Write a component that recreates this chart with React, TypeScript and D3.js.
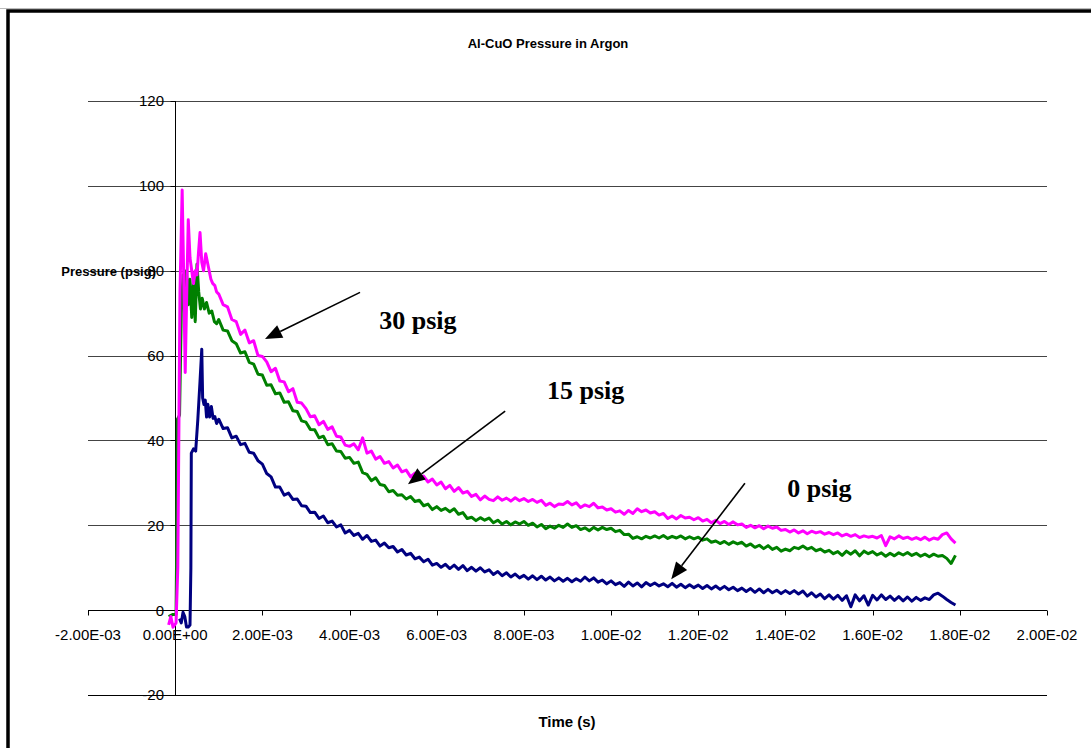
import React, { useEffect, useRef } from 'react';
import * as d3 from 'd3';

// time in ms for the ignition spike, then a regular 0.1 ms grid from 1.0 to 17.9 ms
const headTimes30 = [-0.15, -0.1, -0.05, 0.02, 0.06, 0.11, 0.16, 0.19, 0.23, 0.26, 0.3, 0.34, 0.38, 0.42, 0.46, 0.5, 0.54, 0.57, 0.61, 0.65, 0.7, 0.74, 0.78, 0.82, 0.86, 0.91, 0.95];
const headValues30 = [-3.5, -1.5, -4, -3, 10, 75, 99, 82, 56, 72, 92, 83, 80, 77, 80, 79, 85, 89, 82, 80, 84, 82, 80, 78, 77, 76.5, 75];

const headTimes15 = [-0.15, -0.05, 0.02, 0.03, 0.05, 0.08, 0.1, 0.14, 0.18, 0.22, 0.26, 0.3, 0.34, 0.38, 0.42, 0.46, 0.5, 0.54, 0.58, 0.62, 0.67, 0.72, 0.78, 0.84, 0.9, 0.95];
const headValues15 = [-1.5, -1, -1, 10, 45, 45.5, 46, 70, 79, 74, 80, 72, 78, 69, 77, 68, 81.5, 75, 71, 73.5, 71, 72.5, 70, 70.5, 68, 67.5];

const headTimes0 = [0.1, 0.14, 0.18, 0.22, 0.26, 0.3, 0.34, 0.36, 0.37, 0.42, 0.47, 0.52, 0.57, 0.61, 0.63, 0.66, 0.69, 0.72, 0.75, 0.79, 0.83, 0.87, 0.91, 0.95];
const headValues0 = [-2, -3, -0.5, -1.5, -4, -4, -3.5, 10, 37, 38, 37.5, 45, 54, 61.5, 50, 48.5, 49.5, 45.5, 48.5, 45.5, 48, 45.2, 45.6, 44];

const tailTimes = d3.range(10, 180).map(i => i / 10);

const tail30 = [
  74.5, 72, 71.5, 68.5, 68, 65, 66, 63, 63.5, 60,
  59.8, 58.5, 56.2, 57, 54, 53.8, 51.5, 52.2, 49, 48.8,
  47.5, 45.6, 45.8, 43.7, 44.5, 42.6, 43.2, 41, 40.8, 38.9,
  38.6, 39.2, 37.8, 40.6, 37, 37.5, 35.6, 36.2, 34.6, 35,
  33.5, 34.2, 32.6, 33, 31.4, 32.3, 31, 31.6, 30.2, 30.9,
  29.5, 30.2, 28.6, 29.4, 28, 28.9, 27.6, 28, 26.8, 27.3,
  26, 26.9, 26.1, 25.8, 26.7, 25.9, 26.4, 25.7, 26.5, 25.8,
  26.3, 25.6, 26.1, 25.4, 25.9, 24.7, 25.2, 24.4, 25, 24.9,
  25.6, 24.8, 25.3, 24.2, 24.8, 24.4, 25.2, 24.1, 24.3, 23.6,
  23.9, 23.1, 23.4, 22.6, 23.5, 22.8, 23.9, 23.2, 23.6, 22.9,
  23.2, 22.4, 22.8, 21.6, 22.2, 21.5, 22.3, 21.7, 21.9, 21.3,
  21.8, 21, 21.4, 20.6, 21.2, 20.4, 20.9, 20.2, 20.8, 20.1,
  20.3, 19.5, 20, 19.4, 19.9, 19.2, 19.8, 19.3, 19.6, 18.8,
  19, 18.4, 18.9, 18.2, 18.7, 18, 18.6, 18.2, 18.5, 17.9,
  18.3, 17.8, 18.2, 17.5, 17.9, 17.4, 17.8, 17.1, 17.5, 17.2,
  17.4, 17, 17.6, 15.2, 17.3, 16.8, 17.5, 16.9, 17.2, 16.7,
  17.1, 16.6, 17.2, 16.5, 17, 16.7, 17.8, 18.2, 16.8, 15.8
];

const tail15 = [
  68.5, 66, 65.8, 63.5, 62.8, 60.6, 60.9, 58.4, 58, 55.6,
  55.4, 53, 53.1, 51, 51.2, 49, 49.1, 47, 46.8, 44.6,
  44.3, 42.6, 42.5, 40.6, 41, 39, 39.2, 37.5, 37.4, 35.8,
  36, 34.6, 34.9, 32.4, 32, 30.5, 31.2, 29.6, 29.4, 27.9,
  28.2, 27.1, 27.2, 26.2, 26.8, 25.6, 25.9, 24.6, 25, 23.7,
  24.4, 23.5, 24, 23.2, 23.9, 22.6, 23, 21.6, 21.9, 21.1,
  21.8, 21.2, 21.7, 20.6, 21.2, 20.3, 20.9, 20.1, 20.8, 20.3,
  20.9, 20, 20.5, 19.6, 20.2, 19.2, 19.8, 19.3, 20, 19.5,
  20.3, 19.5, 19.9, 19, 19.4, 18.7, 19.5, 18.9, 19.5, 19,
  19.3, 18.5, 18.8, 17.8, 17.9, 16.9, 17.3, 16.8, 17.4, 17,
  17.5, 17, 17.6, 16.9, 17.4, 17, 17.5, 16.8, 17.3, 16.8,
  17.2, 16.5, 16.8, 16, 16.3, 15.7, 16.2, 15.5, 16.1, 15.6,
  16, 15.1, 15.6, 14.8, 15.3, 14.5, 15.2, 14.3, 14.8, 13.9,
  14.4, 14, 14.8, 14.5, 15.1, 14.4, 14.8, 14, 14.4, 13.7,
  14.1, 13.3, 13.8, 12.9, 13.9, 13.2, 14, 12.8, 13.9, 13.3,
  13.8, 13, 13.5, 12.7, 13.4, 12.8, 13.5, 13, 13.6, 12.9,
  13.4, 12.7, 13.2, 12.6, 13.2, 12.7, 12.9, 12.2, 11, 12.9
];

const tail0 = [
  45, 42.8, 43, 40.6, 41, 39, 39.3, 37.2, 37, 35.2,
  34.4, 32.2, 31.4, 29, 29, 27.1, 27.6, 26.1, 26.2, 24.6,
  24.5, 23, 23.1, 21.6, 22.2, 20.6, 21, 19.6, 20.1, 18.2,
  18.8, 17.6, 18.1, 16.7, 17.6, 16.2, 16.5, 15.1, 15.8, 14.7,
  15, 13.7, 14.3, 13, 13.4, 12.1, 12.5, 11.4, 12, 10.6,
  11, 10.1, 10.8, 9.8, 10.6, 9.6, 10.5, 9.3, 10.1, 9.2,
  10, 9, 9.5, 8.4, 9.1, 8.1, 8.8, 7.8, 8.5, 7.6,
  8.2, 7.3, 8.1, 7.2, 8, 7.1, 7.8, 6.9, 7.6, 6.8,
  7.5, 6.7, 7.4, 6.8, 7.8, 6.9, 7.6, 6.6, 7.1, 6.2,
  6.9, 6, 6.5, 5.6, 6.6, 5.7, 6.4, 5.5, 6.5, 5.8,
  6.4, 5.7, 6.2, 5.5, 6.3, 5.4, 6.1, 5.3, 6, 5.3,
  5.9, 5.1, 5.8, 5, 5.7, 4.9, 5.6, 4.8, 5.4, 4.6,
  5.2, 4.4, 5.1, 4.2, 5, 4.1, 4.9, 4.1, 4.7, 3.9,
  4.6, 3.9, 4.6, 3.8, 4.5, 3.3, 4.1, 3.1, 3.8, 2.7,
  3.6, 2.6, 3.5, 2.3, 3.4, 0.8, 3.6, 2.2, 3.4, 1.2,
  3.5, 2.4, 3.6, 2.5, 3.3, 2.3, 3.2, 2.2, 3.1, 2.1,
  3, 2.3, 2.9, 2.5, 3.6, 4, 3.3, 2.5, 1.8, 1.2
];

const yTicks = [-20, 0, 20, 40, 60, 80, 100, 120];
const xTicks = [-0.002, 0, 0.002, 0.004, 0.006, 0.008, 0.01, 0.012, 0.014, 0.016, 0.018, 0.02];

// label, text position (ms, psig), arrow tail and tip (ms, psig)
const notes = [
  { label: '30 psig', at: [4.68, 66.3], from: [4.24, 74.9], to: [2.06, 63.9] },
  { label: '15 psig', at: [8.53, 49.8], from: [7.57, 46.9], to: [5.34, 29.7] },
  { label: '0 psig', at: [14.04, 26.6], from: [13.07, 29.9], to: [11.38, 7.3] },
];

const series = [
  { name: '0 psig', color: '#000080', t: headTimes0, v: headValues0, tail: tail0 },
  { name: '15 psig', color: '#008000', t: headTimes15, v: headValues15, tail: tail15 },
  { name: '30 psig', color: '#FF00FF', t: headTimes30, v: headValues30, tail: tail30 },
];

const fmtSci = (v: number) => {
  const [m, e] = v.toExponential(2).split('e');
  const n = parseInt(e, 10);
  return `${m}E${n < 0 ? '-' : '+'}${String(Math.abs(n)).padStart(2, '0')}`;
};

const App = () => {
  const ref = useRef<SVGSVGElement>(null);

  useEffect(() => {
    const width = 1091;
    const height = 748;
    const sans = '"Liberation Sans", Arial, sans-serif';
    const serif = '"Liberation Serif", "Times New Roman", serif';

    const svg = d3.select(ref.current);
    svg.selectAll('*').remove();
    svg.attr('width', width).attr('height', height);

    svg.append('rect').attr('width', width).attr('height', height).attr('fill', '#fff');
    svg.append('line').attr('x1', 0).attr('x2', width).attr('y1', 8.5).attr('y2', 8.5)
      .attr('stroke', '#bbb');
    // chart area border (runs off the right and bottom)
    svg.append('rect').attr('x', 8).attr('y', 11).attr('width', 1200).attr('height', 900)
      .attr('fill', 'none').attr('stroke', '#000').attr('stroke-width', 3.5);

    const x = d3.scaleLinear().domain([-0.002, 0.02]).range([88, 1047]);
    const y = d3.scaleLinear().domain([-20, 120]).range([695, 101]);

    // gridlines
    svg.append('g').selectAll('line')
      .data(yTicks.filter(d => d !== 0))
      .join('line')
      .attr('x1', x(-0.002)).attr('x2', x(0.02))
      .attr('y1', d => Math.round(y(d)) + 0.5).attr('y2', d => Math.round(y(d)) + 0.5)
      .attr('stroke', d => (d === -20 ? '#000' : '#444'));

    // y axis at t = 0
    const y0x = Math.round(x(0)) + 0.5;
    svg.append('line').attr('x1', y0x).attr('x2', y0x).attr('y1', y(120)).attr('y2', y(-20))
      .attr('stroke', '#000');
    svg.append('g').selectAll('line')
      .data(yTicks)
      .join('line')
      .attr('x1', y0x - 5).attr('x2', y0x)
      .attr('y1', d => Math.round(y(d)) + 0.5).attr('y2', d => Math.round(y(d)) + 0.5)
      .attr('stroke', '#000');
    svg.append('g').selectAll('text')
      .data(yTicks)
      .join('text')
      .attr('x', 164).attr('y', d => y(d)).attr('dy', '0.36em')
      .attr('text-anchor', 'end')
      .style('font-family', sans).style('font-size', '15px')
      .text(d => d);

    // x axis at p = 0
    const x0y = Math.round(y(0)) + 0.5;
    svg.append('line').attr('x1', x(-0.002)).attr('x2', x(0.02)).attr('y1', x0y).attr('y2', x0y)
      .attr('stroke', '#000');
    svg.append('g').selectAll('line')
      .data(xTicks)
      .join('line')
      .attr('x1', d => Math.round(x(d)) + 0.5).attr('x2', d => Math.round(x(d)) + 0.5)
      .attr('y1', x0y).attr('y2', x0y + 5)
      .attr('stroke', '#000');
    svg.append('g').selectAll('text')
      .data(xTicks)
      .join('text')
      .attr('x', d => x(d)).attr('y', 640)
      .attr('text-anchor', 'middle')
      .style('font-family', sans).style('font-size', '15px')
      .text(d => fmtSci(d));

    // series
    const line = d3.line<[number, number]>()
      .x(d => x(d[0] / 1000))
      .y(d => y(d[1]));

    series.forEach(s => {
      const pts: [number, number][] = s.t.map((t, i) => [t, s.v[i]]);
      tailTimes.forEach((t, i) => pts.push([t, s.tail[i]]));
      svg.append('path')
        .datum(pts)
        .attr('d', line)
        .attr('fill', 'none')
        .attr('stroke', s.color)
        .attr('stroke-width', 3)
        .attr('stroke-linejoin', 'round');
    });

    // titles
    svg.append('text').attr('x', 548).attr('y', 48).attr('text-anchor', 'middle')
      .style('font-family', sans).style('font-size', '13px').style('font-weight', 'bold')
      .text('Al-CuO Pressure in Argon');
    svg.append('text').attr('x', 156).attr('y', 276).attr('text-anchor', 'end')
      .style('font-family', sans).style('font-size', '13px').style('font-weight', 'bold')
      .text('Pressure (psig)');
    svg.append('text').attr('x', 567).attr('y', 727).attr('text-anchor', 'middle')
      .style('font-family', sans).style('font-size', '15px').style('font-weight', 'bold')
      .text('Time (s)');

    // annotations
    notes.forEach(n => {
      const x1 = x(n.from[0] / 1000), y1 = y(n.from[1]);
      const x2 = x(n.to[0] / 1000), y2 = y(n.to[1]);
      const ang = Math.atan2(y2 - y1, x2 - x1);
      const len = 17, half = 7;
      const bx = x2 - len * Math.cos(ang), by = y2 - len * Math.sin(ang);
      svg.append('line').attr('x1', x1).attr('y1', y1).attr('x2', bx).attr('y2', by)
        .attr('stroke', '#000').attr('stroke-width', 1.6);
      const head = [
        [x2, y2],
        [bx + half * Math.sin(ang), by - half * Math.cos(ang)],
        [bx - half * Math.sin(ang), by + half * Math.cos(ang)],
      ];
      svg.append('polygon').attr('points', head.map(p => p.join(',')).join(' ')).attr('fill', '#000');
      svg.append('text').attr('x', x(n.at[0] / 1000)).attr('y', y(n.at[1]))
        .style('font-family', serif).style('font-size', '26px').style('font-weight', 'bold')
        .text(n.label);
    });
  }, []);

  return (
    <div style={{ position: 'absolute', left: 0, top: 0 }}>
      <svg ref={ref} style={{ display: 'block' }} />
    </div>
  );
};

export default App;
